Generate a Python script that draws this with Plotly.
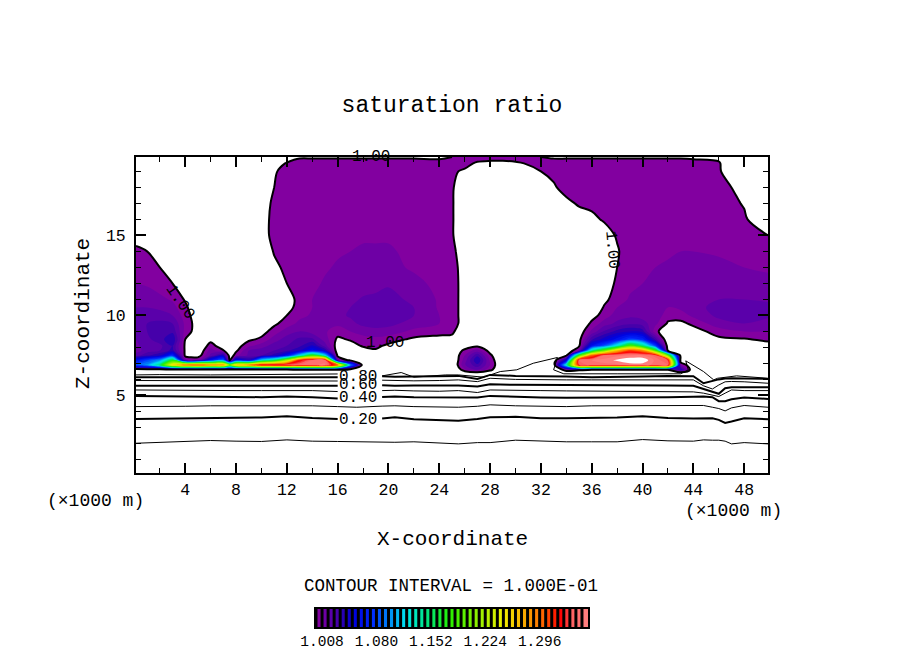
import numpy as np
import plotly.graph_objects as go

FONT = "Liberation Mono"

# grid nodes of the supersaturated part (x1000 m)
x_cols = [0.125, 1, 2, 3, 4, 5, 6, 7, 7.5, 8, 9, 10, 11, 12, 13, 14, 15, 16, 17, 18, 19, 20,
          22, 24, 25, 26, 27, 28, 29, 30, 32, 33, 34, 35, 36, 37, 38, 39, 40, 41, 42, 43, 44,
          46, 48, 49.875]
z_rows = [6.3, 6.6, 6.9, 7.2, 7.5, 7.8, 8.1, 8.5, 9, 9.5, 10, 10.5, 11, 12, 13, 14, 15, 16,
          17, 18, 19, 19.5, 19.9]

# saturation ratio x1000, one list per x column, bottom to top
sat_cols = [
    [960, 985, 1085, 1060, 1020, 1012, 1014, 1016, 1018, 1020, 1018, 1016, 1012, 1008, 1005, 1002, 996, 990, 988, 985, 985, 985, 985],
    [960, 985, 1100, 1080, 1030, 1020, 1020, 1022, 1024, 1024, 1020, 1016, 1012, 1007, 1003, 1000, 992, 986, 985, 985, 985, 985, 985],
    [960, 985, 1150, 1100, 1040, 1024, 1022, 1028, 1030, 1026, 1020, 1014, 1010, 1004, 1000, 994, 988, 985, 985, 985, 985, 985, 985],
    [960, 985, 1260, 1170, 1070, 1035, 1032, 1040, 1030, 1024, 1016, 1011, 1007, 1000, 994, 988, 985, 985, 985, 985, 985, 985, 985],
    [960, 985, 1300, 1012, 997, 998, 998, 1000, 1005, 1006, 1004, 1002, 999, 992, 988, 985, 985, 985, 985, 985, 985, 985, 985],
    [960, 985, 1310, 1010, 994, 990, 990, 992, 995, 995, 994, 992, 990, 988, 985, 985, 985, 985, 985, 985, 985, 985, 985],
    [960, 985, 1290, 1060, 1018, 1012, 1004, 997, 990, 988, 986, 985, 985, 985, 985, 985, 985, 985, 985, 985, 985, 985, 985],
    [960, 985, 1290, 1090, 1040, 1001, 994, 988, 985, 985, 985, 985, 985, 985, 985, 985, 985, 985, 985, 985, 985, 985, 985],
    [960, 985, 1200, 996, 992, 990, 990, 985, 985, 985, 985, 985, 985, 985, 985, 985, 985, 985, 985, 985, 985, 985, 985],
    [960, 985, 1270, 1060, 1005, 998, 995, 990, 985, 985, 985, 985, 985, 985, 985, 985, 985, 985, 985, 985, 985, 985, 985],
    [960, 985, 1290, 1040, 1018, 1016, 1006, 998, 990, 986, 985, 985, 985, 985, 985, 985, 985, 985, 985, 985, 985, 985, 985],
    [960, 985, 1330, 1120, 1024, 1020, 1012, 1002, 996, 990, 988, 986, 985, 985, 988, 990, 997, 997, 995, 992, 988, 985, 985],
    [960, 985, 1340, 1150, 1036, 1024, 1020, 1012, 1004, 998, 992, 988, 988, 992, 997, 1001, 1002, 1002, 1002, 1000, 999, 994, 988],
    [960, 985, 1345, 1220, 1060, 1030, 1024, 1020, 1012, 1004, 1000, 997, 997, 1000, 1003, 1003, 1003, 1003, 1003, 1003, 1003, 1001, 994],
    [960, 990, 1345, 1320, 1120, 1040, 1030, 1026, 1016, 1010, 1006, 1003, 1002, 1004, 1005, 1005, 1005, 1005, 1005, 1004, 1004, 1003, 999],
    [960, 990, 1350, 1345, 1180, 1060, 1042, 1026, 1012, 1010, 1009, 1008, 1008, 1006, 1006, 1005, 1005, 1004, 1004, 1004, 1003, 1003, 999],
    [960, 990, 1355, 1345, 1120, 1040, 1020, 1012, 1009, 1010, 1011, 1010, 1010, 1009, 1007, 1006, 1005, 1004, 1004, 1003, 1003, 1003, 999],
    [960, 990, 1300, 1015, 996, 992, 994, 998, 1004, 1010, 1014, 1013, 1012, 1010, 1009, 1007, 1005, 1004, 1004, 1003, 1003, 1003, 999],
    [960, 985, 1100, 996, 992, 994, 996, 1001, 1008, 1014, 1017, 1016, 1014, 1011, 1009, 1008, 1006, 1005, 1004, 1003, 1003, 1003, 999],
    [960, 985, 990, 992, 994, 996, 1001, 1004, 1012, 1018, 1022, 1020, 1017, 1012, 1010, 1009, 1007, 1005, 1004, 1003, 1003, 1003, 999],
    [960, 985, 988, 990, 994, 999, 1002, 1006, 1013, 1020, 1024, 1022, 1018, 1013, 1010, 1009, 1007, 1005, 1004, 1003, 1003, 1003, 999],
    [960, 985, 988, 990, 992, 994, 998, 1004, 1012, 1019, 1023, 1022, 1019, 1015, 1010, 1009, 1007, 1005, 1004, 1003, 1003, 1003, 999],
    [960, 985, 988, 988, 990, 992, 994, 998, 1006, 1012, 1016, 1016, 1014, 1010, 1007, 1006, 1005, 1004, 1003, 1003, 1003, 1003, 999],
    [960, 985, 988, 988, 990, 992, 993, 996, 1004, 1008, 1008, 1007, 1007, 1006, 1004, 1004, 1003, 1003, 1003, 1002, 1002, 1002, 999],
    [960, 985, 988, 988, 990, 992, 993, 997, 1002, 1006, 1006, 1006, 1006, 1006, 1005, 1003, 1001, 1001, 1001, 1001, 1001, 1001, 1000],
    [985, 1006, 1015, 1012, 1008, 1002, 995, 990, 992, 994, 994, 994, 994, 994, 994, 993, 992, 992, 992, 994, 999, 1002, 1003],
    [985, 1016, 1030, 1040, 1030, 1012, 998, 990, 988, 988, 988, 988, 988, 988, 988, 988, 988, 988, 988, 990, 994, 999, 1003],
    [985, 1003, 1008, 1006, 1002, 996, 992, 988, 988, 988, 988, 988, 988, 988, 988, 988, 988, 988, 988, 988, 992, 998, 1003],
    [985, 988, 988, 988, 988, 988, 988, 988, 988, 988, 988, 988, 988, 988, 988, 988, 988, 988, 988, 988, 992, 998, 1003],
    [985, 988, 988, 988, 988, 988, 988, 988, 988, 988, 988, 988, 988, 988, 988, 988, 988, 988, 988, 988, 993, 999, 1003],
    [985, 988, 988, 988, 988, 988, 988, 988, 988, 988, 988, 988, 988, 988, 988, 988, 988, 988, 990, 995, 1000, 1002, 1000],
    [985, 988, 988, 988, 988, 988, 988, 988, 988, 988, 988, 988, 988, 988, 988, 988, 988, 988, 990, 999, 1002, 1003, 999],
    [985, 1005, 1130, 1050, 998, 990, 988, 988, 988, 988, 988, 988, 988, 988, 988, 988, 988, 992, 998, 1003, 1003, 1003, 999],
    [985, 1002, 1335, 1345, 1180, 1010, 998, 996, 994, 990, 988, 988, 988, 988, 988, 988, 992, 996, 1001, 1003, 1003, 1003, 999],
    [960, 1000, 1350, 1352, 1300, 1140, 1060, 1030, 1010, 1002, 996, 992, 990, 992, 994, 994, 994, 998, 1002, 1003, 1003, 1003, 999],
    [960, 1000, 1350, 1355, 1345, 1200, 1085, 1045, 1025, 1012, 1004, 1001, 998, 994, 992, 992, 996, 1001, 1003, 1003, 1003, 1003, 999],
    [960, 1000, 1350, 1362, 1350, 1270, 1130, 1060, 1035, 1018, 1012, 1008, 1004, 1002, 1000, 999, 1001, 1003, 1004, 1004, 1004, 1003, 999],
    [960, 1000, 1355, 1368, 1352, 1310, 1190, 1080, 1040, 1022, 1014, 1011, 1009, 1006, 1005, 1005, 1005, 1005, 1004, 1004, 1003, 1003, 999],
    [960, 1000, 1355, 1368, 1352, 1290, 1150, 1070, 1036, 1020, 1012, 1010, 1010, 1008, 1006, 1006, 1005, 1004, 1004, 1004, 1003, 1003, 999],
    [960, 1000, 1350, 1350, 1340, 1190, 1080, 1030, 1003, 1010, 1014, 1012, 1011, 1009, 1008, 1007, 1005, 1004, 1004, 1003, 1003, 1003, 999],
    [960, 1000, 1345, 1335, 1200, 998, 992, 988, 992, 999, 1003, 1008, 1011, 1010, 1009, 1007, 1005, 1004, 1004, 1003, 1003, 1003, 999],
    [960, 1040, 1010, 992, 990, 988, 988, 988, 992, 998, 1004, 1010, 1012, 1011, 1009, 1008, 1006, 1004, 1003, 1003, 1003, 1003, 999],
    [960, 985, 988, 988, 988, 988, 988, 988, 996, 1002, 1010, 1013, 1014, 1012, 1010, 1008, 1006, 1003, 1003, 1002, 1002, 1002, 999],
    [960, 985, 988, 988, 988, 990, 992, 998, 1004, 1013, 1018, 1019, 1016, 1012, 1010, 1007, 1004, 1002, 1003, 1003, 1001, 1001, 998],
    [960, 985, 988, 988, 988, 990, 994, 999, 1008, 1016, 1020, 1020, 1016, 1011, 1008, 1005, 1003, 1001, 999.5, 997, 990, 985, 985],
    [960, 985, 988, 988, 988, 988, 996, 1002, 1008, 1014, 1017, 1018, 1015, 1010, 1007, 1003, 1000, 994, 988, 985, 985, 985, 985],
]

# subsaturated contours, height (x1000 m) along x_low, None where a label sits
x_low = [0.125, 2, 4, 6, 8, 10, 12, 14, 16, 17.5, 19.5, 20.5, 22, 24, 25.5, 27, 28, 30, 32, 34,
         36, 38, 40, 42, 44, 44.8, 45.5, 46, 46.5, 47, 48, 49.875]
z_010 = [2.01, 2.07, 2.16, 2.18, 2.14, 2.12, 2.22, 2.14, 2.12, 2.10, 2.08, 2.07, 2.10, 2.05, 1.97, 2.05,
         2.05, 2.20, 2.14, 2.10, 2.10, 2.10, 2.24, 2.16, 2.14, 2.22, 2.20, 2.20, 2.14, 1.97, 2.05, 1.97]
z_020 = [3.53, 3.55, 3.57, 3.59, 3.62, 3.62, 3.70, 3.59, 3.53, None, 3.55, 3.64, 3.51, 3.47, 3.41, 3.53,
         3.64, 3.66, 3.57, 3.57, 3.59, 3.62, 3.70, 3.59, 3.55, 3.55, 3.57, 3.47, 3.28, 3.37, 3.57, 3.51]
z_030 = [4.30, 4.30, 4.32, 4.35, 4.35, 4.35, 4.39, 4.35, 4.30, 4.26, 4.33, 4.35, 4.30, 4.30, 4.26, 4.32,
         4.41, 4.35, 4.32, 4.30, 4.35, 4.35, 4.37, 4.39, 4.39, 4.37, 4.26, 4.18, 4.03, 4.22, 4.37, 4.26]
z_040 = [4.97, 4.93, 4.93, 4.91, 4.89, 4.89, 4.93, 4.89, 4.80, None, 4.90, 4.93, 4.89, 4.89, 4.87, 4.87,
         4.97, 4.91, 4.87, 4.85, 4.85, 4.87, 4.87, 4.89, 4.91, 4.93, 4.89, 4.64, 4.64, 4.76, 4.87, 4.78]
z_050 = [5.34, 5.32, 5.30, 5.30, 5.30, 5.30, 5.32, 5.30, 5.24, None, 5.30, 5.32, 5.28, 5.26, 5.30, 5.18,
         5.34, 5.30, 5.30, 5.28, 5.26, 5.24, 5.24, 5.22, 5.22, 5.14, 5.02, 4.93, 5.14, 5.34, 5.30, 5.30]
z_060 = [5.60, 5.60, 5.62, 5.62, 5.62, 5.62, 5.64, 5.62, 5.60, None, 5.64, 5.60, 5.62, 5.62, 5.62, 5.55,
         5.70, 5.66, 5.66, 5.66, 5.66, 5.66, 5.66, 5.62, 5.60, 5.40, 5.24, 5.10, 5.45, 5.51, 5.51, 5.51]
z_070 = [5.93, 5.93, 5.92, 5.91, 5.91, 5.91, 5.92, 5.91, 5.90, None, 5.95, 5.92, 5.91, 5.93, 5.97, 5.86,
         6.07, 6.00, 5.97, 5.97, 5.97, 5.97, 5.97, 5.97, 5.97, 5.60, 5.40, 5.65, 5.85, 5.87, 5.85, 5.76]
z_080 = [6.14, 6.14, 6.14, 6.14, 6.14, 6.14, 6.14, 6.14, 6.14, None, 6.20, 6.16, 6.18, 6.20, 6.22, 6.03,
         6.28, 6.22, 6.22, 6.18, 6.14, 6.14, 6.18, 6.22, 6.20, 5.76, 5.90, 6.00, 6.05, 6.07, 6.05, 6.03]
# the 0.9 line folds back around the cloud edges so it has its own x
x_090 = [0.125, 2, 6, 10, 14, 16, 17.5, 19.5, 21, 22, 24.5, 25.5, 27.5, 28.8, 30.1, 31.4, 33.3, 33, 33.8,
         38, 43, 43.6, 43.4, 44.8, 45.6, 45.9, 47.4, 49.875]
z_090 = [6.28, 6.30, 6.28, 6.32, 6.33, 6.34, None, 6.22, 6.43, 6.14, 6.28, 6.28, 6.14, 6.49, 6.60, 7.01,
         7.37, 6.60, 6.35, 6.35, 6.35, 6.60, 7.16, 6.49, 5.97, 6.07, 6.22, 6.07]

# contour labels
label_text = ["0.20", "0.40", "0.60", "0.80", "1.00", "1.00", "1.00", "1.00"]
label_x = [17.6, 17.6, 17.6, 17.6, 19.75, 18.6, 3.6, 37.6]
label_z = [3.47, 4.84, 5.66, 6.15, 8.25, 19.9, 10.84, 14.1]
label_angle = [0, 0, 0, 0, 0, 0, 55, 85]

# colour bar
bar_start = 1.0
bar_end = 1.36
bar_step = 0.008
bar_levels = [round(bar_start + i * bar_step, 3) for i in range(45)]
bar_ticks = [1.008, 1.080, 1.152, 1.224, 1.296]

# colour anchors: level, r, g, b
anchor_lvl = [1.000, 1.016, 1.024, 1.032, 1.045, 1.070, 1.115, 1.145, 1.173, 1.243, 1.292, 1.319, 1.336, 1.360]
anchor_r = [130, 90, 70, 40, 0, 0, 0, 0, 40, 240, 255, 255, 255, 255]
anchor_g = [0, 0, 0, 0, 0, 40, 230, 230, 240, 240, 120, 0, 100, 140]
anchor_b = [160, 170, 170, 180, 220, 255, 240, 120, 0, 0, 0, 0, 100, 140]


def band_color(level):
    r = np.interp(level, anchor_lvl, anchor_r)
    g = np.interp(level, anchor_lvl, anchor_g)
    b = np.interp(level, anchor_lvl, anchor_b)
    return f"rgb({int(r)},{int(g)},{int(b)})"


band_colors = [band_color(v) for v in bar_levels]

# below 1.0 and above 1.36 stay white
n_bands = len(bar_levels) + 1
colorscale = [[0, "white"]]
for i, c in enumerate(band_colors):
    colorscale.append([(i + 1) / n_bands, c])
colorscale.append([1, "white"])

sat = np.array(sat_cols).T / 1000.0

fig = go.Figure()

fig.add_trace(go.Contour(
    x=x_cols, y=z_rows, z=sat,
    autocontour=False,
    contours=dict(start=bar_start, end=bar_end, size=bar_step, coloring="fill", showlines=False),
    colorscale=colorscale,
    line_width=0,
    showscale=False,
    hoverinfo="skip",
))
fig.add_trace(go.Contour(
    x=x_cols, y=z_rows, z=sat,
    autocontour=False,
    contours=dict(start=1.0, end=1.0, size=0.1, coloring="none"),
    line=dict(color="black", width=2),
    showscale=False,
    hoverinfo="skip",
))

thin = [(x_low, z_010), (x_low, z_030), (x_low, z_050), (x_low, z_070), (x_090, z_090)]
heavy = [(x_low, z_020), (x_low, z_040), (x_low, z_060), (x_low, z_080)]
for xs, zs in thin:
    fig.add_trace(go.Scatter(x=xs, y=zs, mode="lines", line=dict(color="black", width=1), showlegend=False))
for xs, zs in heavy:
    fig.add_trace(go.Scatter(x=xs, y=zs, mode="lines", line=dict(color="black", width=2), showlegend=False))

# colour bar on its own small axes
fig.add_trace(go.Bar(
    x=[v + bar_step / 2 for v in bar_levels],
    y=[1] * len(bar_levels),
    width=bar_step,
    marker=dict(color=band_colors, line_width=0),
    xaxis="x2", yaxis="y2", showlegend=False,
))
stripe_x = []
stripe_y = []
for v in bar_levels:
    stripe_x += [v, v, None]
    stripe_y += [0, 1, None]
fig.add_trace(go.Scatter(
    x=stripe_x, y=stripe_y, mode="lines",
    line=dict(color="black", width=3),
    xaxis="x2", yaxis="y2", showlegend=False,
))


def page_text(text, px, py, size, angle=0):
    return dict(x=px / 904, y=1 - py / 654, xref="paper", yref="paper", text=text, textangle=angle,
                xanchor="center", yanchor="middle", showarrow=False,
                font=dict(family=FONT, size=size, color="black"))


annotations = []
for t, x, z, a in zip(label_text, label_x, label_z, label_angle):
    annotations.append(dict(x=x, y=z, xref="x", yref="y", text=t, textangle=a, showarrow=False,
                            xanchor="center", yanchor="middle",
                            font=dict(family=FONT, size=16, color="black")))
annotations.append(page_text("(×1000 m)", 95, 501, 18))
annotations.append(page_text("(×1000 m)", 733, 511, 18))
annotations.append(page_text("X-coordinate", 452, 539, 21))
annotations.append(page_text("Z-coordinate", 84, 314, 21, -90))
annotations.append(page_text("CONTOUR INTERVAL = 1.000E-01", 451, 586, 17.5))

fig.update_layout(
    width=904, height=654,
    margin=dict(l=0, r=0, t=0, b=0, autoexpand=False),
    paper_bgcolor="white", plot_bgcolor="white",
    showlegend=False,
    bargap=0,
    font=dict(family=FONT, color="black"),
    title=dict(text="saturation ratio", x=452 / 904, y=1 - 104 / 654, xanchor="center", yanchor="middle",
               font=dict(family=FONT, size=23, color="black")),
    annotations=annotations,
    xaxis=dict(
        domain=[136 / 904, 768 / 904], range=[0.125, 49.875],
        tick0=0, dtick=4, ticks="inside", ticklen=10, tickwidth=2, tickcolor="black",
        minor=dict(dtick=2, tick0=0, ticks="inside", ticklen=5, tickwidth=1, tickcolor="black"),
        showline=True, linecolor="black", linewidth=2, mirror="allticks",
        showgrid=False, zeroline=False, automargin=False,
        tickfont=dict(family=FONT, size=16.5, color="black"),
    ),
    yaxis=dict(
        domain=[1 - 473 / 654, 1 - 157 / 654], range=[0.15, 19.9],
        tick0=0, dtick=5, ticks="inside", ticklen=10, tickwidth=2, tickcolor="black",
        minor=dict(dtick=1, tick0=0, ticks="inside", ticklen=5, tickwidth=1, tickcolor="black"),
        showline=True, linecolor="black", linewidth=2, mirror="allticks",
        showgrid=False, zeroline=False, automargin=False, ticklabelstandoff=5,
        tickfont=dict(family=FONT, size=16.5, color="black"),
    ),
    xaxis2=dict(
        domain=[316 / 904, 588 / 904], range=[bar_start, bar_end], anchor="y2",
        tickvals=bar_ticks, ticktext=[f"{v:.3f}" for v in bar_ticks],
        ticks="", showline=True, linecolor="black", linewidth=2, mirror=True,
        showgrid=False, zeroline=False, automargin=False,
        tickfont=dict(family=FONT, size=14.5, color="black"),
    ),
    yaxis2=dict(
        domain=[1 - 627 / 654, 1 - 609 / 654], range=[0, 1], anchor="x2",
        showticklabels=False, ticks="", showline=True, linecolor="black", linewidth=2, mirror=True,
        showgrid=False, zeroline=False, automargin=False,
    ),
)

fig.write_html("out.html", config=dict(displayModeBar=False),
               post_script="document.body.style.margin='0';")
